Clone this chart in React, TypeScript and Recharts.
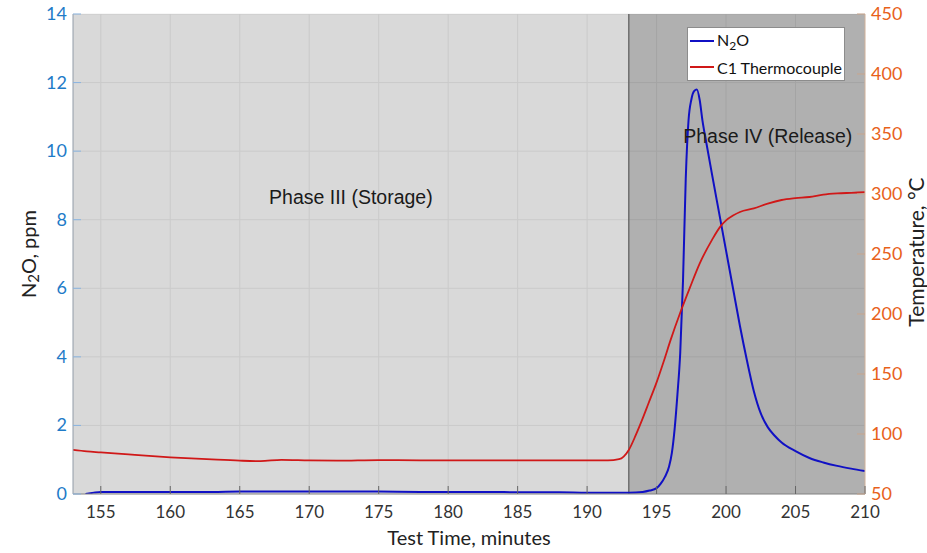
import React from 'react';
import {
  LineChart, Line, XAxis, YAxis, CartesianGrid,
  ReferenceArea, ReferenceLine, ReferenceDot, Legend,
} from 'recharts';

// N2O concentration (ppm) against test time (min)
const N2O_TIME = [
  153.9, 154.5, 155, 157, 160, 163, 165, 168, 170, 173, 175, 178, 180, 183, 185, 188, 190, 192,
  193, 194, 194.5, 195, 195.3, 195.6, 195.9, 196.1, 196.3, 196.5, 196.7, 196.9, 197.1, 197.3,
  197.5, 197.7, 197.9, 198.1, 198.3, 198.6, 199, 199.5, 200, 200.5, 201, 201.5, 202, 202.5,
  203, 203.5, 204, 205, 206, 207, 208, 209, 210,
];
const N2O_PPM = [
  0.0, 0.04, 0.06, 0.06, 0.06, 0.06, 0.07, 0.07, 0.07, 0.07, 0.07, 0.06, 0.06, 0.06, 0.05, 0.05, 0.04, 0.04,
  0.04, 0.06, 0.1, 0.17, 0.3, 0.5, 0.8, 1.2, 1.9, 2.9, 4.1, 6.2, 9.2, 10.9,
  11.5, 11.75, 11.8, 11.5, 10.9, 10.2, 9.3, 8.2, 7.1, 6.0, 4.9, 3.9, 3.0, 2.35,
  1.95, 1.7, 1.5, 1.25, 1.05, 0.92, 0.82, 0.74, 0.67,
];

// C1 thermocouple temperature (°C)
const TEMP_TIME = [
  153, 154, 155, 157, 160, 163, 165, 166.5, 168, 170, 172, 175, 178, 180, 183, 185, 188, 190,
  191.5, 192.3, 193, 193.5, 194, 194.4, 195, 195.5, 196, 196.7, 197.4, 198.1, 199, 199.6, 200,
  200.5, 201, 202, 203, 204, 205, 206, 207, 208, 209, 210,
];
const TEMP_C = [
  86.7, 85.5, 84.7, 83, 80.6, 78.8, 77.8, 77.4, 78.5, 78.0, 77.8, 78.3, 78.0, 78.0, 78.0, 78.0, 78.0, 78.0,
  78.0, 79, 86.7, 99, 113, 125, 143, 160, 178, 201, 222, 242, 262, 273, 278,
  282, 285, 288, 292, 295, 296.5, 297.5, 299.5, 300.5, 301, 301.5,
];

const X_TICKS = [155, 160, 165, 170, 175, 180, 185, 190, 195, 200, 205, 210];
const PPM_TICKS = [0, 2, 4, 6, 8, 10, 12, 14];
const TEMP_TICKS = [50, 100, 150, 200, 250, 300, 350, 400, 450];
const PHASE_SPLIT = 193;
const LEGEND_ORDER = ['N2O', 'C1 Thermocouple'];

const n2oData = N2O_TIME.map((t, i) => ({ t, ppm: N2O_PPM[i] }));
const tempData = TEMP_TIME.map((t, i) => ({ t, temp: TEMP_C[i] }));

const SANS = 'Lato, "Open Sans", sans-serif';
const ARIAL = '"Liberation Sans", Arial, sans-serif';
const BLUE_TXT = '#1e7bc8';
const ORANGE_TXT = '#e8611a';

const BottomTick = ({ x, y, payload }: any) => (
  <g>
    <line x1={x} x2={x} y1={y} y2={y - 8} stroke="#666" />
    <text x={x} y={y + 24} textAnchor="middle" fill="#333" fontSize={17} fontFamily={SANS}>
      {payload.value}
    </text>
  </g>
);

const TopTick = ({ x, y }: any) => (
  <line x1={x} x2={x} y1={y} y2={y + 8} stroke="#777" />
);

const LeftTick = ({ x, y, payload }: any) => (
  <g>
    <line x1={x} x2={x + 8} y1={y} y2={y} stroke="#8ab4e0" />
    <text x={x - 6} y={y + 6} textAnchor="end" fill={BLUE_TXT} fontSize={18} fontFamily={SANS}>
      {payload.value}
    </text>
  </g>
);

const RightTick = ({ x, y, payload }: any) => (
  <g>
    <line x1={x} x2={x - 8} y1={y} y2={y} stroke="#c9a58c" />
    <text x={x + 6} y={y + 6} textAnchor="start" fill={ORANGE_TXT} fontSize={18} fontFamily={SANS}>
      {payload.value}
    </text>
  </g>
);

const LegendBox = ({ payload }: any) => {
  const items = [...(payload || [])].sort(
    (a: any, b: any) => LEGEND_ORDER.indexOf(a.value) - LEGEND_ORDER.indexOf(b.value),
  );
  return (
    <div
      style={{
        background: '#fff', border: '1px solid #8c8c8c', width: 156, height: 52,
        fontFamily: SANS, fontSize: 16, color: '#111', boxSizing: 'content-box',
      }}
    >
      {items.map((p: any) => (
        <div key={p.value} style={{ display: 'flex', alignItems: 'center', height: 26, paddingLeft: 2 }}>
          <span style={{ display: 'inline-block', width: 24, height: 2, background: p.color, marginRight: 3 }} />
          {p.value === 'N2O' ? (
            <span>N<sub style={{ fontSize: 12, verticalAlign: -4 }}>2</sub>O</span>
          ) : (
            <span>{p.value}</span>
          )}
        </div>
      ))}
    </div>
  );
};

export default function App() {
  return (
    <div style={{ position: 'absolute', left: 0, top: 0, background: '#fff' }}>
      <LineChart width={927} height={553} margin={{ top: 14, right: 22, bottom: 0, left: 33 }}>
        <CartesianGrid stroke="#eeeeee" strokeWidth={1} yAxisId="ppm" />
        <XAxis
          dataKey="t" type="number" domain={[153, 210]} ticks={X_TICKS} allowDataOverflow
          height={59} tickSize={0} tickMargin={0} tick={<BottomTick />}
          axisLine={{ stroke: '#888' }} tickLine={false}
          label={(props: any) => {
            const vb = props.viewBox;
            return (
              <text x={vb.x + vb.width / 2} y={vb.y + 51} textAnchor="middle" fill="#222" fontSize={20} fontFamily={SANS}>
                Test Time, minutes
              </text>
            );
          }}
        />
        <XAxis
          xAxisId="top" orientation="top" type="number" domain={[153, 210]} ticks={X_TICKS}
          height={0} tickSize={0} tickMargin={0} tick={<TopTick />}
          axisLine={{ stroke: '#999' }} tickLine={false}
        />
        <YAxis
          yAxisId="ppm" domain={[0, 14]} ticks={PPM_TICKS} width={40} allowDataOverflow
          tickSize={0} tickMargin={0} tick={<LeftTick />}
          axisLine={{ stroke: '#9aa4b0' }} tickLine={false}
          label={(props: any) => {
            const vb = props.viewBox;
            const cx = vb.x - 5;
            const cy = vb.y + vb.height / 2;
            return (
              <text x={cx} y={cy} transform={`rotate(-90 ${cx} ${cy})`} textAnchor="middle" dominantBaseline="central"
                fill="#222" fontSize={20} fontFamily={SANS}>
                N<tspan fontSize={15} dy={5}>2</tspan><tspan dy={-5}>O, ppm</tspan>
              </text>
            );
          }}
        />
        <YAxis
          yAxisId="temp" orientation="right" domain={[50, 450]} ticks={TEMP_TICKS} width={40} allowDataOverflow
          tickSize={0} tickMargin={0} tick={<RightTick />}
          axisLine={{ stroke: '#d8b8a0' }} tickLine={false}
          label={(props: any) => {
            const vb = props.viewBox;
            const cx = vb.x + 50;
            const cy = vb.y + vb.height / 2 - 2;
            return (
              <text x={cx} y={cy} transform={`rotate(-90 ${cx} ${cy})`} textAnchor="middle" dominantBaseline="central"
                fill="#222" fontSize={21} fontFamily={SANS}>
                Temperature, °C
              </text>
            );
          }}
        />

        {/* storage phase (light) and release phase (dark) shading */}
        <ReferenceArea yAxisId="ppm" x1={153} x2={PHASE_SPLIT} fill="#000" fillOpacity={0.15} stroke="none" />
        <ReferenceArea yAxisId="ppm" x1={PHASE_SPLIT} x2={210} fill="#000" fillOpacity={0.31} stroke="none" />
        <ReferenceLine yAxisId="ppm" x={PHASE_SPLIT} stroke="#6e6e6e" strokeWidth={1.5} />

        <ReferenceDot
          yAxisId="ppm" x={173} y={8.66} r={0} fill="none" stroke="none"
          label={{ value: 'Phase III (Storage)', position: 'center', fill: '#1a1a1a', fontSize: 19.5, fontFamily: ARIAL }}
        />
        <ReferenceDot
          yAxisId="ppm" x={203} y={10.44} r={0} fill="none" stroke="none"
          label={{ value: 'Phase IV (Release)', position: 'center', fill: '#1a1a1a', fontSize: 19.5, fontFamily: ARIAL }}
        />

        <Line
          yAxisId="ppm" data={n2oData} dataKey="ppm" name="N2O" type="monotone"
          stroke="#1010c4" strokeWidth={2} dot={false} isAnimationActive={false}
        />
        <Line
          yAxisId="temp" data={tempData} dataKey="temp" name="C1 Thermocouple" type="monotone"
          stroke="#d01818" strokeWidth={1.8} dot={false} isAnimationActive={false}
        />

        <Legend
          layout="vertical" align="center" verticalAlign="middle"
          content={<LegendBox />}
          wrapperStyle={{ top: 27, left: 687, width: 'auto' }}
        />
      </LineChart>
    </div>
  );
}
